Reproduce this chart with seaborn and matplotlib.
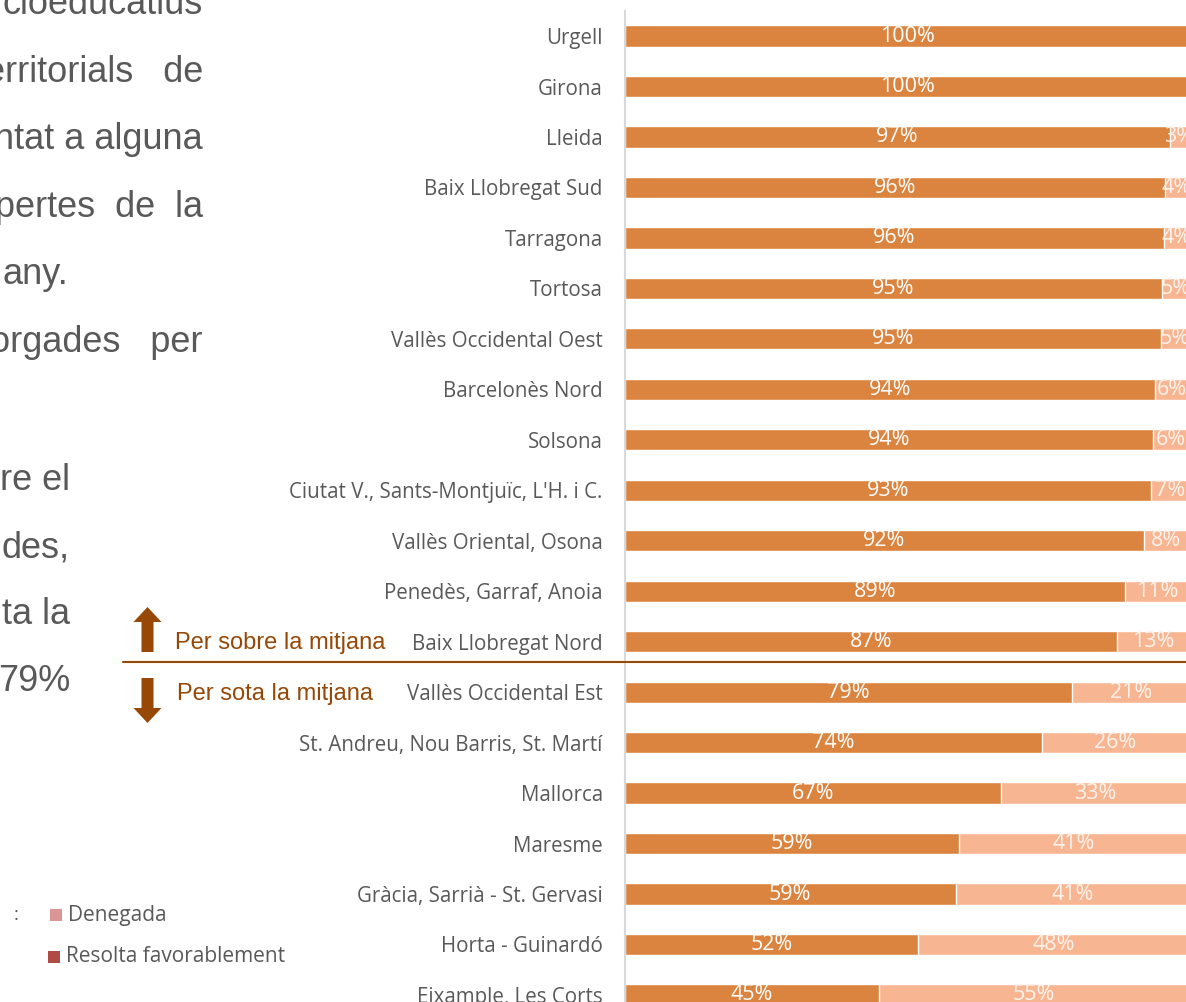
# Stacked horizontal bars: resolved favourably vs denied, by territorial service
import pandas as pd
import seaborn as sns
from matplotlib import pyplot as plt
from matplotlib.patches import FancyArrow, Rectangle

districts = ["Urgell", "Girona", "Lleida", "Baix Llobregat Sud", "Tarragona", "Tortosa",
             "Vallès Occidental Oest", "Barcelonès Nord", "Solsona",
             "Ciutat V., Sants-Montjuïc, L'H. i C.", "Vallès Oriental, Osona",
             "Penedès, Garraf, Anoia", "Baix Llobregat Nord", "Vallès Occidental Est",
             "St. Andreu, Nou Barris, St. Martí", "Mallorca", "Maresme",
             "Gràcia, Sarrià - St. Gervasi", "Horta - Guinardó", "Eixample, Les Corts"]
favorable = [1.0, 1.0, 0.966, 0.957, 0.956, 0.952, 0.951, 0.940, 0.936, 0.933, 0.920,
             0.886, 0.872, 0.793, 0.739, 0.667, 0.592, 0.586, 0.520, 0.450]
denied = [0.0, 0.0, 0.034, 0.043, 0.044, 0.048, 0.049, 0.060, 0.064, 0.067, 0.080,
          0.114, 0.128, 0.207, 0.261, 0.333, 0.408, 0.414, 0.480, 0.550]

# fragments of the slide's body text (cut by the crop)
left_text_top = ["cioeducatius", "erritorials   de", "ntat a alguna", "pertes  de  la",
                 "orgades   per"]
left_text_last = "any."
left_text_bottom = ["re el", "des,", "ta la", "79%"]
legend_labels = ["Denegada", "Resolta favorablement"]

DARK = "#DB843F"
LIGHT = "#F8B592"
BROWN = "#974706"
GRAY = "#595959"

W, H = 1186, 1002
df = pd.DataFrame({"district": districts, "favorable": favorable, "denied": denied})
df["total"] = df["favorable"] + df["denied"]

sns.set_style("white")
plt.rcParams["font.family"] = ["Open Sans", "DejaVu Sans"]

fig = plt.figure(figsize=(W / 100, H / 100), dpi=100)
# axes in pixel terms: left at 625px, 100% at 1189px, first row band starts at 10.8px
top_px, row_px = 10.8, 50.47
ax = fig.add_axes([625 / W, 1 - (top_px + 20 * row_px) / H, 564 / W, 20 * row_px / H])

sns.barplot(data=df, x="total", y="district", color=LIGHT, saturation=1,
            width=0.42, orient="h", ax=ax)
sns.barplot(data=df, x="favorable", y="district", color=DARK, saturation=1,
            width=0.42, orient="h", ax=ax)
ax.set_xlim(0, 1.0)
ax.set_ylim(19.5, -0.5)
ax.set_xlabel("")
ax.set_ylabel("")
ax.set_xticks([])
ax.tick_params(axis="y", length=0, pad=16, labelsize=14.8, labelcolor=GRAY)
for s in ["top", "right", "bottom"]:
    ax.spines[s].set_visible(False)
ax.spines["left"].set_color("#D9D9D9")
ax.spines["left"].set_linewidth(1.5)

# data labels centred in each segment
for i, (f, d) in enumerate(zip(favorable, denied)):
    ax.text(f / 2, i, f"{round(f * 100)}%", ha="center", va="center",
            color="white", fontsize=15.5)
    if d > 0:
        ax.text(f + d / 2, i, f"{round(d * 100)}%", ha="center", va="center",
                color="#FDF3EC", fontsize=15.5, clip_on=False)

# overlay in pixel coordinates for the surrounding slide content
ov = fig.add_axes([0, 0, 1, 1], zorder=5)
ov.set_xlim(0, W)
ov.set_ylim(H, 0)
ov.axis("off")
ov.patch.set_alpha(0)

body = dict(color=GRAY, fontsize=26, family="Liberation Sans", va="baseline")
top_baselines = [14, 81.5, 149, 216.5, 351.5]
for y, line in zip(top_baselines, left_text_top):
    ov.text(203, y, line, ha="right", **body)
ov.text(2, 284, left_text_last, ha="left", **body)
for k, line in enumerate(left_text_bottom):
    ov.text(70, 490 + k * 67, line, ha="right", **body)

ov.add_patch(FancyArrow(147.5, 652, 0, -45, width=12, head_width=28, head_length=15,
                        length_includes_head=True, color=BROWN, lw=0))
ov.add_patch(FancyArrow(147.5, 678, 0, 45, width=12, head_width=28, head_length=15,
                        length_includes_head=True, color=BROWN, lw=0))
ov.plot([123, W], [662, 662], color=BROWN, lw=1.5)
ov.text(175, 649, "Per sobre la mitjana", ha="left", va="baseline", color=BROWN,
        fontsize=17, family="Liberation Sans")
ov.text(177, 700, "Per sota la mitjana", ha="left", va="baseline", color=BROWN,
        fontsize=17, family="Liberation Sans")

# legend remnants
ov.text(16, 915, ":", ha="center", va="center", color=GRAY, fontsize=13)
ov.add_patch(Rectangle((50, 909), 12, 12, color="#D99694", lw=0))
ov.add_patch(Rectangle((48, 951), 12, 12, color="#B04A45", lw=0))
ov.text(68, 915, legend_labels[0], ha="left", va="center", color=GRAY, fontsize=15)
ov.text(66, 957, legend_labels[1], ha="left", va="center", color=GRAY, fontsize=15)

fig.savefig("out.png", dpi=100)
